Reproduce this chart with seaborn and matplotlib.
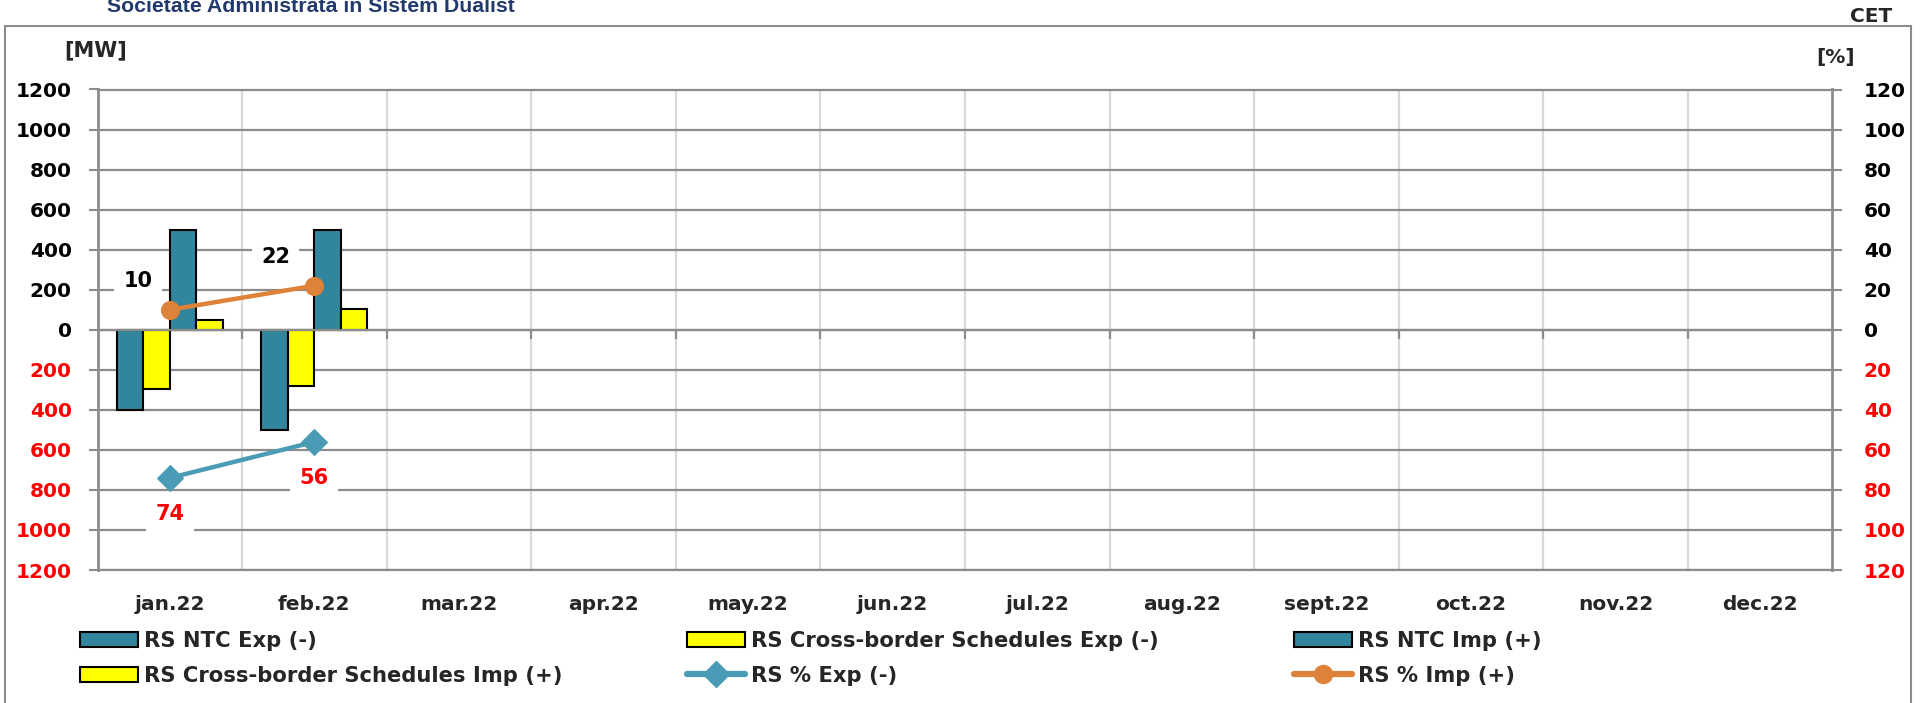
import numpy as np
import pandas as pd
import matplotlib
matplotlib.use("Agg")
import matplotlib.pyplot as plt
from matplotlib.patches import Patch, Rectangle
from matplotlib.lines import Line2D
import seaborn as sns

# ---- data ----
months = ["jan.22", "feb.22", "mar.22", "apr.22", "may.22", "jun.22",
          "jul.22", "aug.22", "sept.22", "oct.22", "nov.22", "dec.22"]
data_months = ["jan.22", "feb.22"]
ntc_exp = [-400, -500]
cbs_exp = [-295, -280]
ntc_imp = [500, 500]
cbs_imp = [50, 105]
pct_exp = [74, 56]
pct_imp = [10, 22]

mw_ticks = list(range(-1200, 1201, 200))
pct_ticks = list(range(-120, 121, 20))

series_names = ["RS NTC Exp (-)", "RS Cross-border Schedules Exp (-)",
                "RS NTC Imp (+)", "RS Cross-border Schedules Imp (+)"]
exp_name = "RS % Exp (-)"
imp_name = "RS % Imp (+)"

TEAL = "#31859C"
YELLOW = "#FFFF00"
LINE_EXP = "#4A9BB5"
LINE_IMP = "#DE823A"
GRID = "#8C8C8C"
VGRID = "#D9D9D9"
RED = "#FF0000"

sns.set_theme(style="white")
plt.rcParams["font.family"] = ["DejaVu Sans"]
plt.rcParams["font.weight"] = "bold"

rows = []
for name, vals in zip(series_names, [ntc_exp, cbs_exp, ntc_imp, cbs_imp]):
    for m, v in zip(data_months, vals):
        rows.append({"month": m, "series": name, "MW": v})
df = pd.DataFrame(rows)

W, H = 1925, 703
fig = plt.figure(figsize=(W / 100, H / 100), dpi=100)
ax_l, ax_r, ax_t, ax_b = 97.5, 1832.5, 89.5, 570
ax = fig.add_axes([ax_l / W, 1 - ax_b / H, (ax_r - ax_l) / W, (ax_b - ax_t) / H])

palette = {series_names[0]: TEAL, series_names[1]: YELLOW,
           series_names[2]: TEAL, series_names[3]: YELLOW}
sns.barplot(data=df, x="month", y="MW", hue="series", order=months,
            hue_order=series_names, palette=palette, width=0.732,
            edgecolor="black", linewidth=1.5, saturation=1, legend=False, ax=ax)

ax.set_xlim(-0.5, len(months) - 0.5)
ax.set_ylim(-1200, 1200)
ax.set_xlabel("")
ax.set_ylabel("")

# horizontal grid and category separators
ax.set_axisbelow(True)
ax.set_yticks(mw_ticks)
ax.set_yticklabels([str(abs(t)) for t in mw_ticks])
for t, lab in zip(mw_ticks, ax.get_yticklabels()):
    lab.set_color(RED if t < 0 else "black")
ax.yaxis.grid(True, color=GRID, linewidth=1.6)
ax.set_xticks(np.arange(len(months)))
ax.set_xticklabels(months)
ax.set_xticks(np.arange(0.5, len(months) - 1, 1.0), minor=True)
ax.xaxis.grid(True, which="minor", color=VGRID, linewidth=1.6)
ax.xaxis.grid(False, which="major")
ax.tick_params(axis="x", which="both", length=0, pad=18, labelsize=14.5)
ax.tick_params(axis="y", direction="out", length=6.5, width=1.5, color=GRID,
               pad=12, labelsize=14.5, left=True)
# short marks under the zero line at category boundaries
ax.vlines(np.arange(0.5, len(months) - 1, 1.0), -45, 0, color=GRID, linewidth=1.6, zorder=1)
ax.axhline(0, color=GRID, linewidth=1.6, zorder=1)

for side in ["left", "right"]:
    ax.spines[side].set_color(GRID)
    ax.spines[side].set_linewidth(2)
for side in ["top", "bottom"]:
    ax.spines[side].set_color(GRID)
    ax.spines[side].set_linewidth(1.6)

# percentage axis
ax2 = ax.twinx()
ax2.set_ylim(-120, 120)
ax2.set_yticks(pct_ticks)
ax2.set_yticklabels([str(abs(t)) for t in pct_ticks])
for t, lab in zip(pct_ticks, ax2.get_yticklabels()):
    lab.set_color(RED if t < 0 else "black")
ax2.tick_params(axis="y", direction="out", length=7.5, width=1.5, color=GRID,
                pad=15, labelsize=14.5, right=True)
ax2.grid(False)
for s in ax2.spines.values():
    s.set_visible(False)

x_pos = [months.index(m) for m in data_months]
exp_neg = [-v for v in pct_exp]
sns.lineplot(x=x_pos, y=exp_neg, ax=ax2, color=LINE_EXP, linewidth=3.2,
             marker="D", markersize=13, markeredgecolor=LINE_EXP, legend=False)
sns.lineplot(x=x_pos, y=pct_imp, ax=ax2, color=LINE_IMP, linewidth=3.2,
             marker="o", markersize=13, markeredgecolor=LINE_IMP, legend=False)
ax2.set_xlim(-0.5, len(months) - 0.5)

box = dict(boxstyle="square,pad=0.45", facecolor="white", edgecolor="none")
imp_offsets = [(-23, 21), (-28, 21)]
for xp, v, off in zip(x_pos, pct_imp, imp_offsets):
    ax2.annotate(str(v), (xp, v), xytext=off, textcoords="offset points",
                 ha="center", va="center", fontsize=15, fontweight="bold",
                 color="black", bbox=box, zorder=5)
for xp, v in zip(x_pos, pct_exp):
    ax2.annotate(str(v), (xp, -v), xytext=(0, -26), textcoords="offset points",
                 ha="center", va="center", fontsize=15, fontweight="bold",
                 color=RED, bbox=box, zorder=5)

# axis unit captions and header texts
fig.text(96 / W, 1 - 50 / H, "[MW]", ha="center", va="center", fontsize=15, fontweight="bold")
fig.text(1836 / W, 1 - 58 / H, "[%]", ha="center", va="center", fontsize=14.5, fontweight="bold")
fig.text(1871 / W, 1 - 17 / H, "CET", ha="center", va="center", fontsize=14.5, fontweight="bold")
fig.text(107 / W, 1 - 12 / H, "Societate Administrata in Sistem Dualist", ha="left",
         va="baseline", fontsize=15.3, fontweight="bold", color="#22396B",
         family=["Liberation Sans", "DejaVu Sans"])

# outer frame
fig.patches.append(Rectangle((5 / W, -0.05), (1911 - 5) / W, 1.05 - 26 / H,
                             transform=fig.transFigure, fill=False,
                             edgecolor=GRID, linewidth=1.5))

# legend, three columns of two rows
bar_handle = lambda c: Patch(facecolor=c, edgecolor="black", linewidth=1.5)
line_handle = lambda c, m: Line2D([0], [0], color=c, linewidth=4.5, marker=m,
                                  markersize=13, markeredgecolor=c)
columns = [
    (80, [bar_handle(TEAL), bar_handle(YELLOW)], [series_names[0], series_names[3]]),
    (687, [bar_handle(YELLOW), line_handle(LINE_EXP, "D")], [series_names[1], exp_name]),
    (1294, [bar_handle(TEAL), line_handle(LINE_IMP, "o")], [series_names[2], imp_name]),
]
leg_fs = 15.2
for x0, handles, labels in columns:
    fig.legend(handles, labels, loc="upper left",
               bbox_to_anchor=(x0 / W, 1 - 631 / H), frameon=False,
               handlelength=2.75, handleheight=0.74,
               handletextpad=0.3, labelspacing=0.71, borderaxespad=0,
               borderpad=0, prop={"weight": "bold", "size": leg_fs})

fig.savefig("out.png", dpi=100)
